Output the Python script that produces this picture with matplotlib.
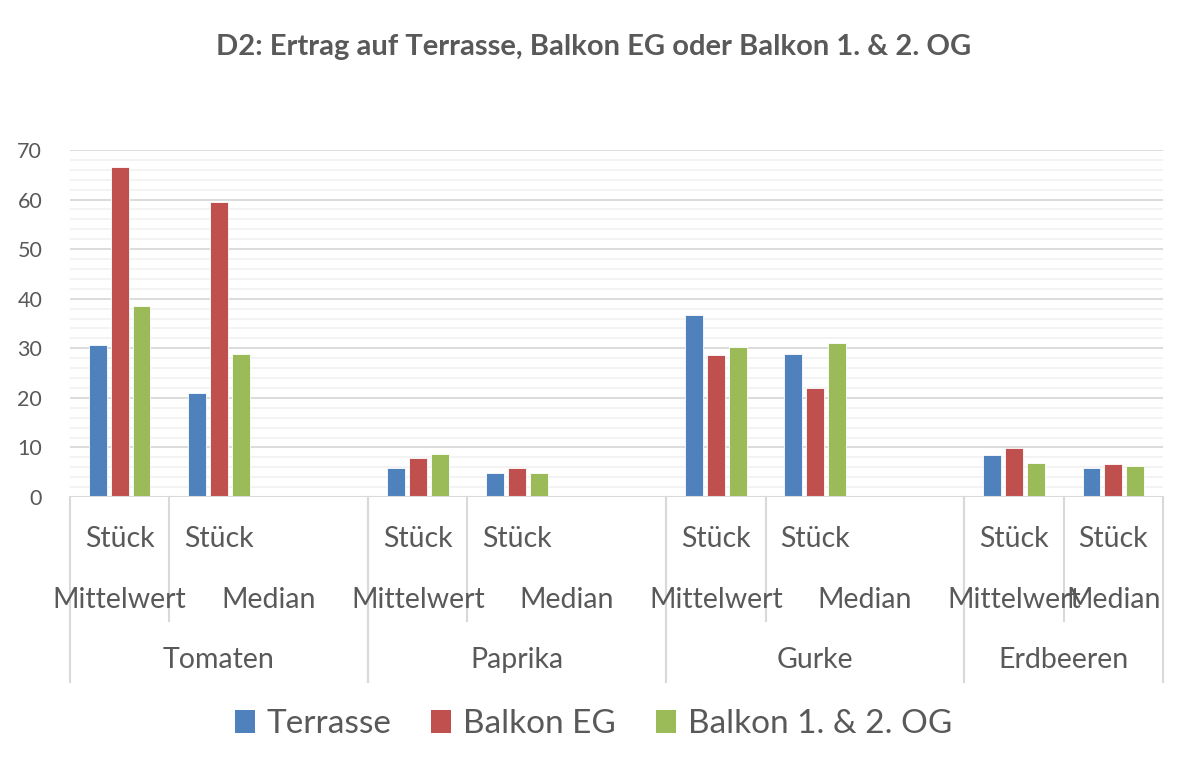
import numpy as np
import matplotlib.pyplot as plt
from matplotlib.transforms import blended_transform_factory
from matplotlib.patches import Patch

plt.rcParams['font.family'] = ['Lato', 'DejaVu Sans']

# data
groups = ["Tomaten", "Paprika", "Gurke", "Erdbeeren"]
group_slots = [3, 3, 3, 2]   # Excel leaves an empty category in the first three groups
unit_label = "Stück"
measures = ["Mittelwert", "Median"]
series_names = ["Terrasse", "Balkon EG", "Balkon 1. & 2. OG"]
terrasse = [30.7, 20.9, 5.8, 4.9, 36.8, 28.9, 8.5, 5.8]
balkon_eg = [66.6, 59.5, 7.8, 5.8, 28.6, 21.9, 9.8, 6.6]
balkon_og = [38.5, 28.9, 8.7, 4.9, 30.3, 31.0, 6.9, 6.2]
colors = ["#4F81BD", "#C0504D", "#9BBB59"]
txt = "#595959"

W, H = 1187, 769
fig = plt.figure(figsize=(W / 100, H / 100), dpi=100)
ax = fig.add_axes([70 / W, 1 - 497 / H, (1163 - 70) / W, 347 / H])

starts = np.cumsum([0] + group_slots[:-1])
x = []
for s in starts:
    x += [s + 0.5, s + 1.5]
x = np.array(x)

width, step = 0.18, 0.22
for i, (vals, name, c) in enumerate(zip([terrasse, balkon_eg, balkon_og], series_names, colors)):
    ax.bar(x + (i - 1) * step, vals, width, color=c, edgecolor='white', linewidth=0.6, label=name, zorder=3)

ax.set_xlim(0, sum(group_slots))
ax.set_ylim(0, 70)
ax.set_yticks(range(0, 71, 10))
ax.set_yticks(np.arange(0, 70, 2), minor=True)
ax.grid(axis='y', which='major', color='#D9D9D9', lw=1.3, zorder=0)
ax.grid(axis='y', which='minor', color='#F2F2F2', lw=1.3, zorder=0)
ax.tick_params(axis='y', which='both', length=0, pad=20, labelsize=15.5, labelcolor=txt)
ax.set_xticks([])
for sp in ax.spines.values():
    sp.set_visible(False)
ax.axhline(0, color='#D9D9D9', lw=1.5, zorder=4)

# multi-level category axis
tr = blended_transform_factory(ax.transData, fig.transFigure)
def fy(px):
    return 1 - px / H

for g, s, n in zip(groups, starts, group_slots):
    for k in range(2):
        xc = s + 0.5 + k
        ax.text(xc, fy(539), unit_label, transform=tr, ha='center', va='center', fontsize=20.5, color=txt)
        xm = xc if (k == 0 or n == 2) else xc + 0.5
        ax.text(xm, fy(600), measures[k], transform=tr, ha='center', va='center', fontsize=20.5, color=txt)
    ax.text(s + n / 2, fy(660), g, transform=tr, ha='center', va='center', fontsize=20.5, color=txt)
    ax.plot([s + 1, s + 1], [fy(497), fy(621)], transform=tr, color='#D9D9D9', lw=1.5, clip_on=False)
    for xe in (s, s + n):
        ax.plot([xe, xe], [fy(497), fy(682)], transform=tr, color='#D9D9D9', lw=1.5, clip_on=False)

fig.text(0.5, fy(47), "D2: Ertrag auf Terrasse, Balkon EG oder Balkon 1. & 2. OG",
         ha='center', va='center', fontsize=21, fontweight='bold', color=txt)

handles = [Patch(facecolor=c, label=n) for c, n in zip(colors, series_names)]
fig.legend(handles=handles, loc='center', bbox_to_anchor=(0.5, fy(724)), ncol=3, frameon=False,
           fontsize=24, labelcolor=txt, handlelength=0.6, handleheight=0.7, handletextpad=0.36,
           columnspacing=1.2)

fig.savefig("out.png", dpi=100)
